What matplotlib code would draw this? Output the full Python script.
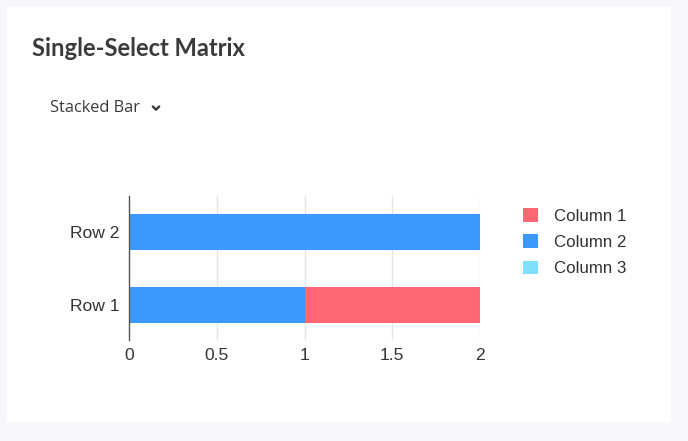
import matplotlib
matplotlib.use("Agg")
import matplotlib.pyplot as plt
from matplotlib.patches import Rectangle
import numpy as np

rows = ["Row 1", "Row 2"]
series_names = ["Column 1", "Column 2", "Column 3"]
col1 = [1, 0]
col2 = [1, 2]
col3 = [0, 0]
colors = {"Column 1": "#ff6674", "Column 2": "#3b99fc", "Column 3": "#80dffb"}
xticks = [0, 0.5, 1, 1.5, 2]
xticklabels = ["0", "0.5", "1", "1.5", "2"]

W, H = 688, 441
fig = plt.figure(figsize=(W/100, H/100), dpi=100)
fig.patch.set_facecolor("#f7f8fc")
fig.patches.append(Rectangle((7/W, 1-422/H), (671-7)/W, (422-7)/H, transform=fig.transFigure,
                             facecolor="white", edgecolor="none", zorder=-10))

fig.text(32/W, 1-48/H, "Single-Select Matrix", fontsize=17.1, fontweight="bold",
         family="Lato", color="#3a3a3a", va="center", ha="left")
fig.text(50/W, 1-108/H, "Stacked Bar", fontsize=11.8, family="Open Sans", color="#3a3a3a",
         va="center", ha="left")
# chevron
cx, cy = 156, 108
fig.add_artist(plt.Line2D([(cx-3.2)/W, cx/W, (cx+3.2)/W], [1-(cy-1.5)/H, 1-(cy+1.7)/H, 1-(cy-1.5)/H],
                          transform=fig.transFigure, color="#3a3a3a", lw=1.7,
                          solid_capstyle="round", solid_joinstyle="round"))

ax = fig.add_axes([129/W, 1-340/H, (480-129)/W, (340-196)/H])
ax.set_zorder(2)
y = np.arange(len(rows))
h = 0.49
# stacking order as seen: Column 2 on left, then Column 1, then Column 3
left = np.zeros(len(rows))
for name, vals in [("Column 2", col2), ("Column 1", col1), ("Column 3", col3)]:
    vals = np.array(vals, dtype=float)
    ax.barh(y, vals, left=left, height=h, color=colors[name], edgecolor="none", zorder=2)
    left += vals

fs = 12.6
ax.set_xlim(0, 2)
ax.set_ylim(-0.48, 1.49)
ax.set_yticks(y)
ax.set_yticklabels(rows, fontsize=fs, family="Liberation Sans", color="#333333")
ax.set_xticks(xticks)
ax.set_xticklabels(xticklabels, fontsize=fs, family="Liberation Sans", color="#333333")
ax.tick_params(length=0)
ax.tick_params(axis="y", pad=7)
ax.tick_params(axis="x", pad=6)
ax.grid(axis="x", color="#e6e6e6", lw=1, zorder=0)
ax.set_axisbelow(True)
for s in ["top", "right", "bottom"]:
    ax.spines[s].set_visible(False)
ax.spines["left"].set_color("#555555")
ax.spines["left"].set_linewidth(1)
ax.spines["left"].set_zorder(3)

# legend
handles = [Rectangle((0, 0), 1, 1, facecolor=colors[n], edgecolor="none") for n in series_names]
fig.legend(handles, series_names, loc="upper left", bbox_to_anchor=(508/W, 1-193/H),
           frameon=False, prop={"family": "Liberation Sans", "size": 12.2},
           handlelength=0.85, handleheight=0.85, handletextpad=0.95, labelspacing=0.62,
           labelcolor="#333333")

fig.savefig("out.png", dpi=100)
